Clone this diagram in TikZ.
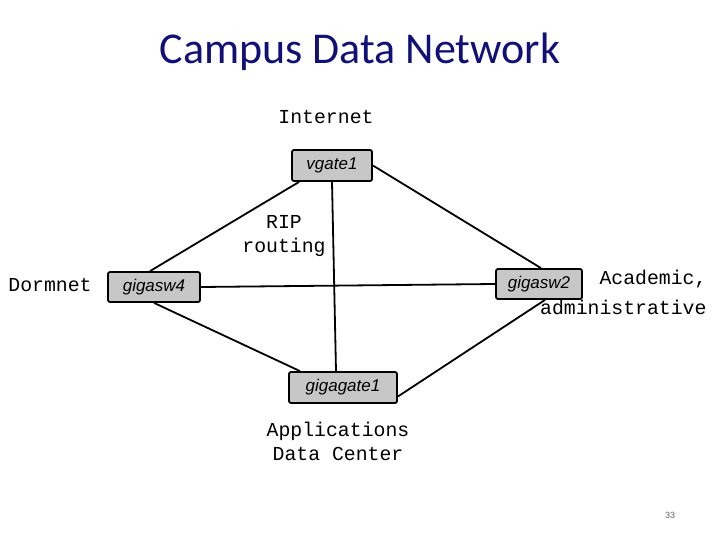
\documentclass[tikz,border=0pt]{standalone}
\usepackage{fontspec}
\newfontfamily\titlefont{Carlito}
\newfontfamily\monofont{Liberation Mono}
\newfontfamily\arialfont{Liberation Sans}
\definecolor{titleblue}{RGB}{16,16,120}
\begin{document}
\begin{tikzpicture}[x=1pt,y=-1pt,
  box/.style={draw=black,line width=1.8pt,fill=black!22,rounded corners=2pt,inner sep=0pt,
    font=\arialfont\itshape\fontsize{17}{19}\selectfont},
  link/.style={line width=1.8pt},
  mono/.style={font=\monofont\fontsize{19.8}{24}\selectfont,align=center}]
\useasboundingbox (0,0) rectangle (720,540);
\node[font=\titlefont\fontsize{44}{48}\selectfont,text=titleblue] (title) at (360,52) {Campus Data Network};
\node[box,minimum width=80,minimum height=31] (vg) at (332,165.5) {vgate1};
\node[box,minimum width=86,minimum height=30] (g2) at (539,284) {gigasw2};
\node[box,minimum width=92,minimum height=30] (g4) at (154,287) {gigasw4};
\node[box,minimum width=108,minimum height=31] (gg) at (343,387.5) {gigagate1};
\draw[link] (vg.south west)++(8,0) coordinate (a1) -- (a1) -- ([xshift=-4pt]g4.north);
\draw[link] (vg.east) -- ([xshift=2pt]g2.north);
\draw[link] (g4.east) -- (g2.west);
\draw[link] (vg.south) -- ([xshift=-7pt]gg.north);
\draw[link] ([xshift=0pt]g4.south) -- ([xshift=-43pt]gg.north);
\draw[link] ([xshift=6pt]g2.south) -- ([yshift=-9pt]gg.east);
\node[mono] (inet) at (326,117) {Internet};
\node[mono] (rip) at (284,236.5) {RIP\\routing};
\node[mono] (dorm) at (50,285) {Dormnet};
\node[mono,anchor=east] (acad) at (710,279) {Academic,};
\node[mono,anchor=east] (admin) at (710,307) {administrative};
\node[mono] (app) at (338,441) {Applications\\Data Center};
\node[font=\arialfont\fontsize{9}{10}\selectfont,text=black!60] (pg) at (670,515) {33};
\end{tikzpicture}
\end{document}
